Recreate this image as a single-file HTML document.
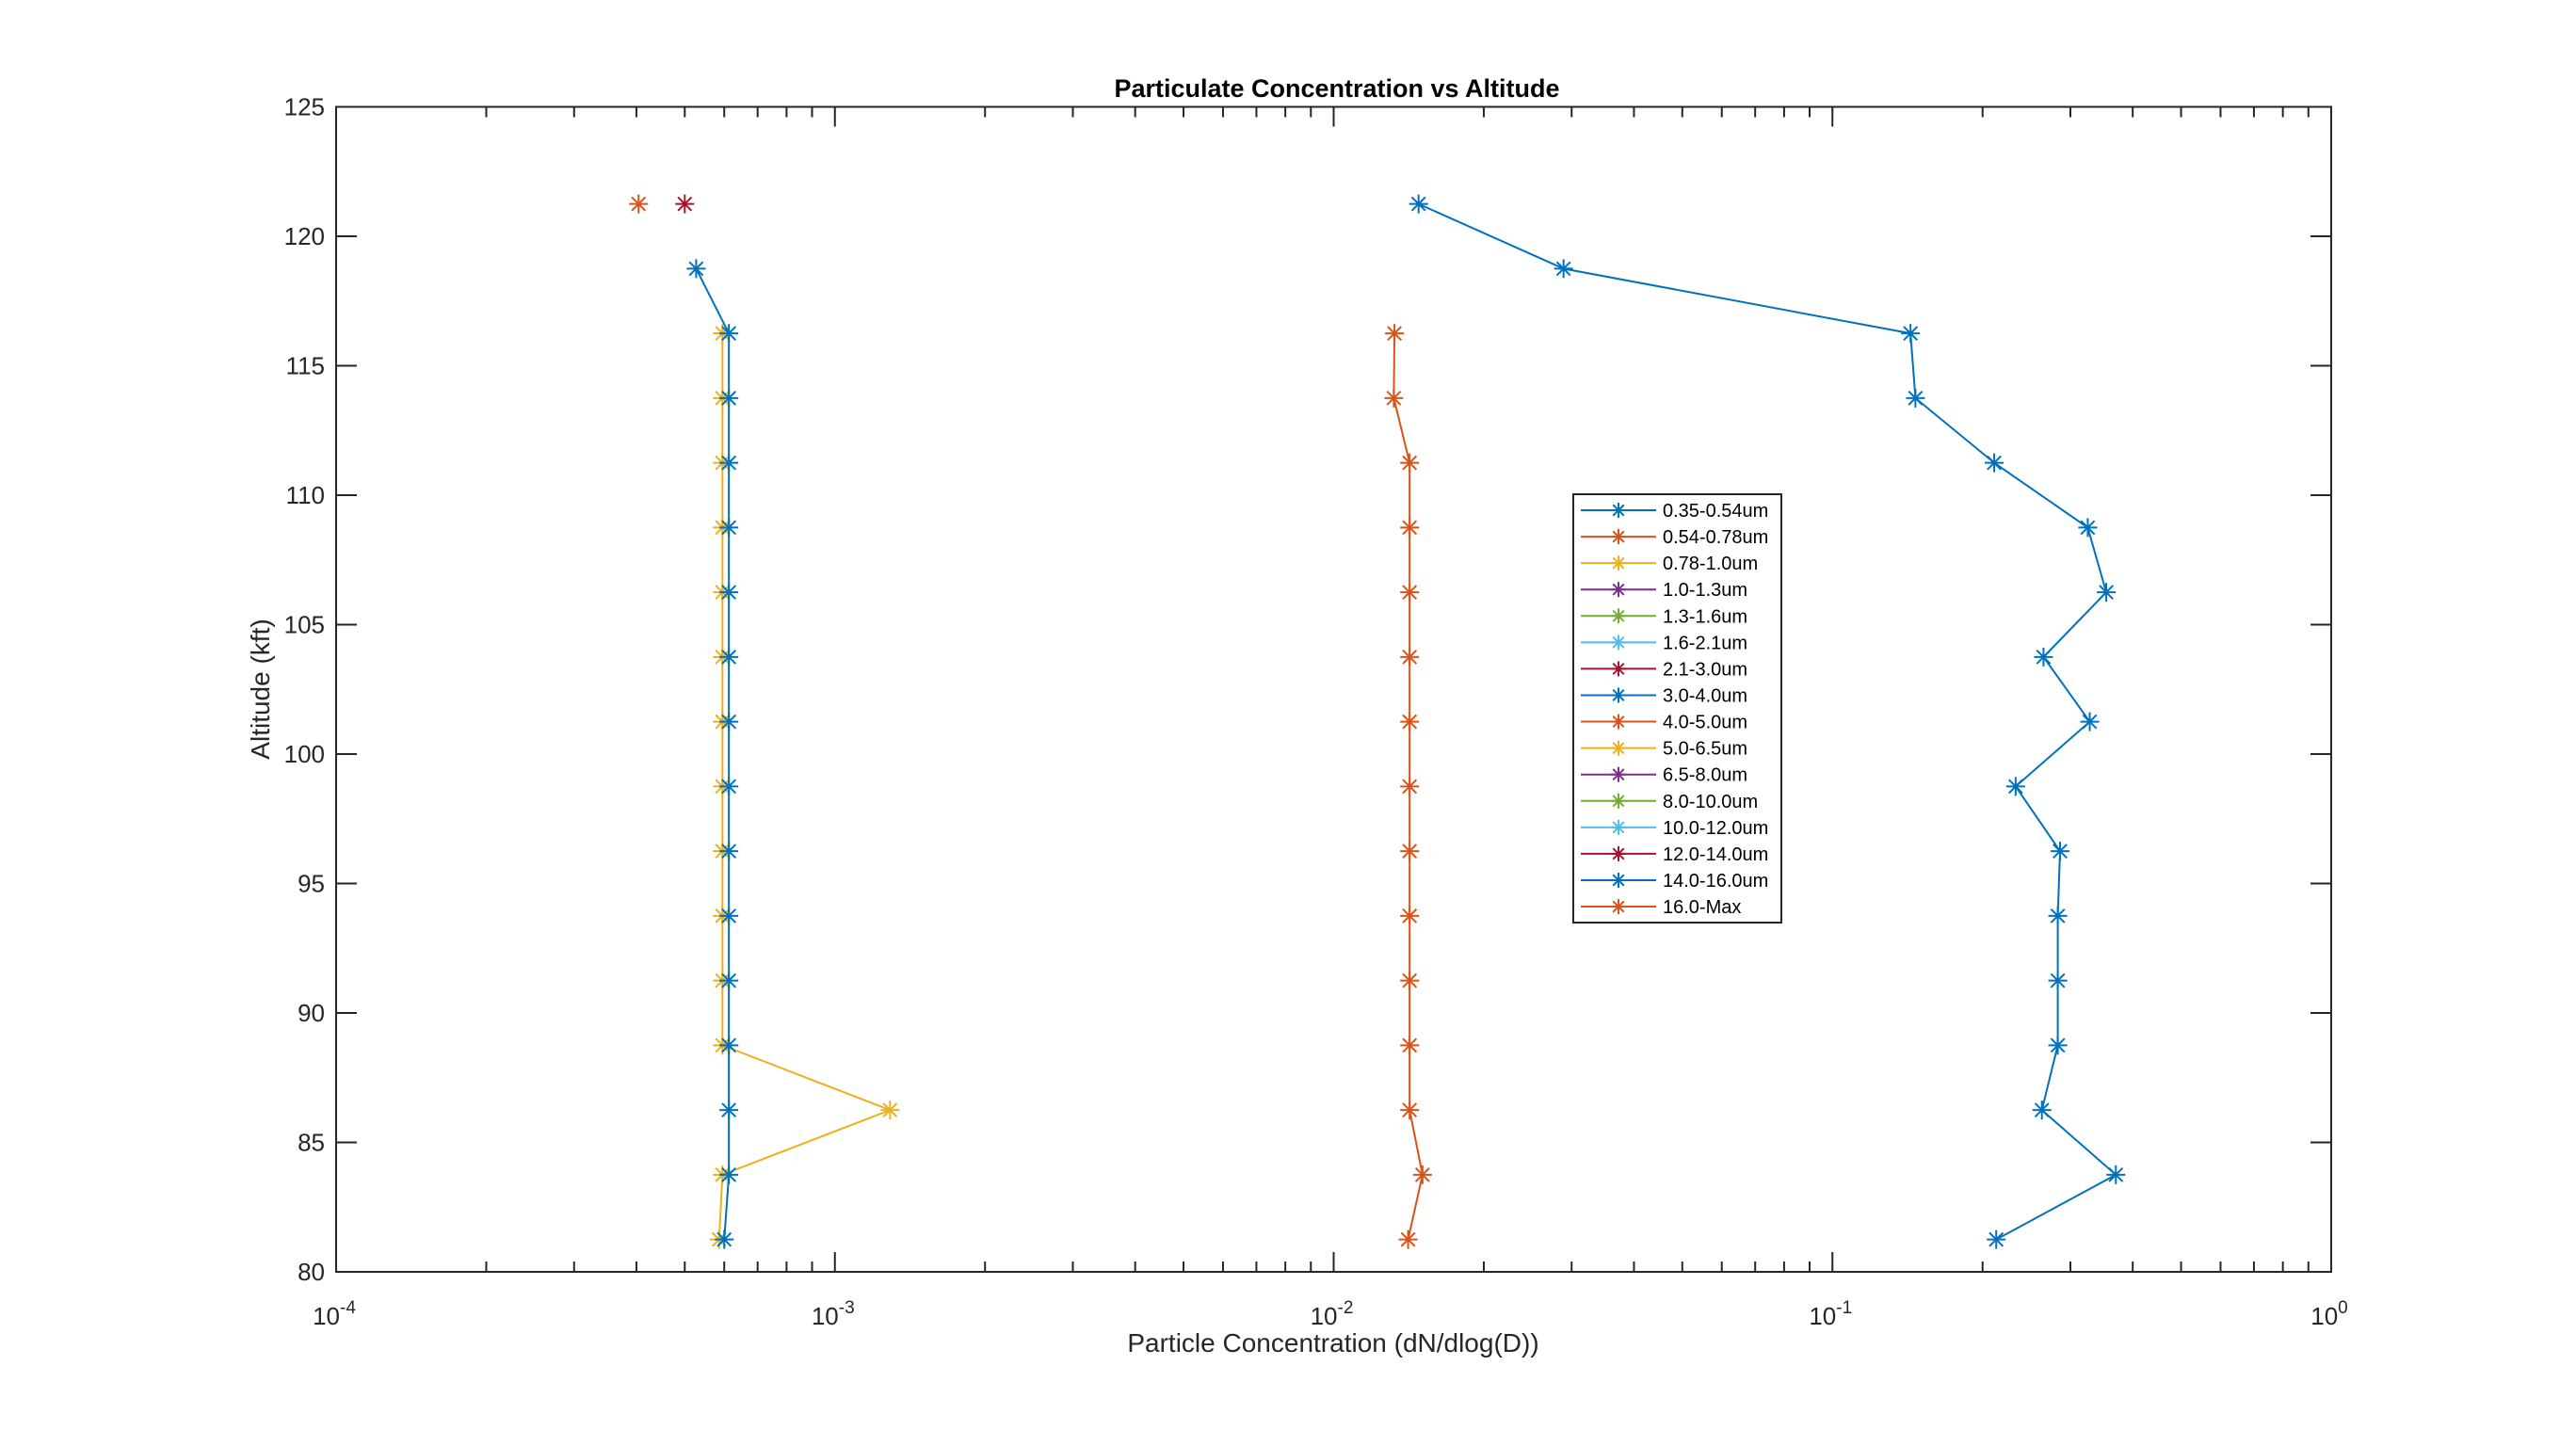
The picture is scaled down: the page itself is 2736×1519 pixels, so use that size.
<!DOCTYPE html>
<html><head><meta charset="utf-8"><style>
html,body{margin:0;padding:0;background:#fff;}
svg{display:block;font-family:"Liberation Sans",Arial,sans-serif;}
</style></head><body>
<svg id="chart" width="2736" height="1519" viewBox="0 0 2736 1519" xmlns="http://www.w3.org/2000/svg"></svg>
<script>
const altitudes=[121.25,118.75,116.25,113.75,111.25,108.75,106.25,103.75,101.25,98.75,96.25,93.75,91.25,88.75,86.25,83.75,81.25];
const s035=[0.0148,0.0289,0.1434,0.1467,0.211,0.325,0.354,0.265,0.328,0.233,0.286,0.283,0.283,0.283,0.263,0.37,0.213];
const s054=[null,null,0.01324,0.0132,0.0142,0.0142,0.0142,0.0142,0.0142,0.0142,0.0142,0.0142,0.0142,0.0142,0.0142,0.01507,0.0141];
const s078=[null,null,5.95e-4,5.95e-4,5.95e-4,5.95e-4,5.95e-4,5.95e-4,5.95e-4,5.95e-4,5.95e-4,5.95e-4,5.95e-4,5.95e-4,1.29e-3,5.95e-4,5.86e-4];
const s30=[null,5.27e-4,6.13e-4,6.13e-4,6.13e-4,6.13e-4,6.13e-4,6.13e-4,6.13e-4,6.13e-4,6.13e-4,6.13e-4,6.13e-4,6.13e-4,6.13e-4,6.13e-4,6.0e-4];
const s21=[5.0e-4,null,null,null,null,null,null,null,null,null,null,null,null,null,null,null,null];
const s16=[4.04e-4,null,null,null,null,null,null,null,null,null,null,null,null,null,null,null,null];
const legendLabels=["0.35-0.54um","0.54-0.78um","0.78-1.0um","1.0-1.3um","1.3-1.6um","1.6-2.1um","2.1-3.0um","3.0-4.0um","4.0-5.0um","5.0-6.5um","6.5-8.0um","8.0-10.0um","10.0-12.0um","12.0-14.0um","14.0-16.0um","16.0-Max"];
const yTicks=[80,85,90,95,100,105,110,115,120,125];
const xDecades=[-4,-3,-2,-1,0];

const C=["#0072BD","#D95319","#EDB120","#7E2F8E","#77AC30","#4DBEEE","#A2142F"];
const L=357,R=2476,T=113.5,B=1351;
const xs=v=>L+(Math.log10(v)+4)/4*(R-L);
const ys=a=>B-(a-80)/45*(B-T);
const svg=document.getElementById('chart');
const NS="http://www.w3.org/2000/svg";
function mk(tag,attrs,parent){const e=document.createElementNS(NS,tag);for(const k in attrs)e.setAttribute(k,attrs[k]);(parent||svg).appendChild(e);return e;}

const box=mk('rect',{x:L,y:T,width:R-L,height:B-T,fill:'#fff',stroke:'#262626','stroke-width':2});



const yg=mk('g',{});


yTicks.forEach(t=>{
  const y=ys(t);
  mk('line',{x1:L,x2:L+22,y1:y,y2:y,stroke:'#262626','stroke-width':2},yg);
  mk('line',{x1:R,x2:R-22,y1:y,y2:y,stroke:'#262626','stroke-width':2},yg);
  const tx=mk('text',{x:L-12,y:y+9,'text-anchor':'end','font-size':26,fill:'#262626'},yg);
  tx.textContent=t;
  
  
});
const xg=mk('g',{});


xDecades.forEach((d,i)=>{
  const x=xs(Math.pow(10,d));
  mk('line',{x1:x,x2:x,y1:B,y2:B-21,stroke:'#262626','stroke-width':2},xg);
  mk('line',{x1:x,x2:x,y1:T,y2:T+21,stroke:'#262626','stroke-width':2},xg);
  const tx=mk('text',{x:x-2,y:B+56,'text-anchor':'middle','font-size':26,fill:'#262626'},xg);
  tx.textContent='10';
  const sp=mk('tspan',{dy:-12,'font-size':19},tx);sp.textContent=String(d);
  
  
  if(i<xDecades.length-1){
    for(let m=2;m<=9;m++){
      const xm=xs(m*Math.pow(10,d));
      mk('line',{x1:xm,x2:xm,y1:B,y2:B-11,stroke:'#262626','stroke-width':2},xg);
      mk('line',{x1:xm,x2:xm,y1:T,y2:T+11,stroke:'#262626','stroke-width':2},xg);
    }
  }
});

function star(g,x,y,col,r){
  mk('line',{x1:x-r,x2:x+r,y1:y,y2:y,stroke:col,'stroke-width':2},g);
  mk('line',{x1:x,x2:x,y1:y-r,y2:y+r,stroke:col,'stroke-width':2},g);
  const d=r*0.72;
  mk('line',{x1:x-d,x2:x+d,y1:y-d,y2:y+d,stroke:col,'stroke-width':2},g);
  mk('line',{x1:x-d,x2:x+d,y1:y+d,y2:y-d,stroke:col,'stroke-width':2},g);
}
function series(vals,col,name){
  const g=mk('g',{});
  
  
  const pts=[];
  vals.forEach((v,i)=>{if(v!=null)pts.push([xs(v),ys(altitudes[i])]);});
  if(pts.length>1)mk('polyline',{points:pts.map(p=>p.join(',')).join(' '),fill:'none',stroke:col,'stroke-width':2},g);
  pts.forEach(p=>star(g,p[0],p[1],col,10));
}
series(s16,C[1],'series-16-max');
series(s21,C[6],'series-2.1-3.0um');
series(s078,C[2],'series-0.78-1.0um');
series(s30,C[0],'series-3.0-4.0um');
series(s054,C[1],'series-0.54-0.78um');
series(s035,C[0],'series-0.35-0.54um');

const lg=mk('g',{});


mk('rect',{x:1671,y:525,width:221,height:455,fill:'#fff',stroke:'#262626','stroke-width':2},lg);
legendLabels.forEach((lab,i)=>{
  const y=542+i*28.07;const col=C[i%7];
  const e=mk('g',{},lg);
  
  
  mk('line',{x1:1679,x2:1759,y1:y,y2:y,stroke:col,'stroke-width':2},e);
  star(e,1719,y,col,8);
  const t=mk('text',{x:1766,y:y+7,'font-size':20,fill:'#000'},e);t.textContent=lab;
});

const title=mk('text',{x:1420,y:103,'text-anchor':'middle','font-size':27,'font-weight':'bold',fill:'#000'});
title.textContent='Particulate Concentration vs Altitude';


const xl=mk('text',{x:1416,y:1436,'text-anchor':'middle','font-size':28,fill:'#262626'});
xl.textContent='Particle Concentration (dN/dlog(D))';


const yl=mk('text',{x:0,y:0,'text-anchor':'middle','font-size':28,fill:'#262626',transform:'translate(286,732) rotate(-90)'});
yl.textContent='Altitude (kft)';


</script>
</body></html>
